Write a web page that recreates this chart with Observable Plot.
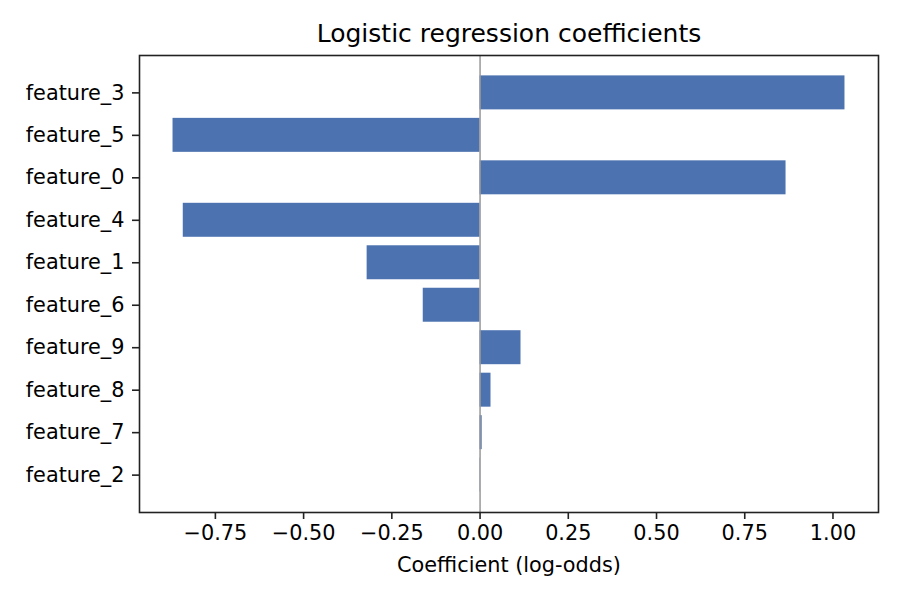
<!DOCTYPE html>
<html>
<head>
<meta charset="utf-8">
<script src="https://cdn.jsdelivr.net/npm/d3@7"></script>
<script src="https://cdn.jsdelivr.net/npm/@observablehq/plot@0.6"></script>
<style>
  html, body { margin: 0; padding: 0; background: white; }
</style>
</head>
<body>
<div id="chart"></div>
<script>
const features = ["feature_3","feature_5","feature_0","feature_4","feature_1","feature_6","feature_9","feature_8","feature_7","feature_2"];
const coefs = [1.034, -0.870, 0.867, -0.841, -0.320, -0.161, 0.116, 0.031, 0.006, 0.001];
const xTicks = [-0.75, -0.5, -0.25, 0, 0.25, 0.5, 0.75, 1.0];
const titleText = "Logistic regression coefficients";
const xLabel = "Coefficient (log-odds)";

const data = features.map((f, i) => ({feature: f, coef: coefs[i]}));

const chart = Plot.plot({
  width: 900,
  height: 600,
  marginLeft: 139,
  marginRight: 22,
  marginTop: 55,
  marginBottom: 88,
  style: {fontFamily: "DejaVu Sans", fontSize: "20.8px", background: "white", color: "black"},
  x: {domain: [-0.965, 1.129]},
  y: {type: "band", domain: features, paddingInner: 0.2, paddingOuter: 0.48, align: 0.5, round: false},
  marks: [
    Plot.barX(data, {x: "coef", y: "feature", fill: "#4c72b0"}),
    Plot.ruleX([0], {stroke: "#999999", strokeWidth: 1.5}),
    Plot.frame({stroke: "#222", strokeWidth: 1.6}),
    Plot.axisX({ticks: xTicks, tickFormat: d3.format(".2f"), tickSize: 7, tickPadding: 6, strokeWidth: 1.6, stroke: "#222", fontSize: 20.8, label: null, fill: "black"}),
    Plot.axisY({tickSize: 7, tickPadding: 8, strokeWidth: 1.6, stroke: "#222", fontSize: 20.8, label: null, fill: "black"}),
    Plot.text([titleText], {frameAnchor: "top", dy: -22, lineAnchor: "middle", fontSize: 25, fill: "black"}),
    Plot.text([xLabel], {frameAnchor: "bottom", dy: 53, lineAnchor: "middle", fontSize: 20.8, fill: "black"})
  ]
});
document.getElementById("chart").appendChild(chart);
</script>
</body>
</html>
